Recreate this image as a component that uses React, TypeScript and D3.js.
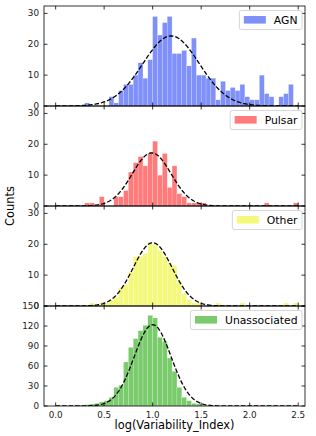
import * as d3 from 'd3';

// histogram bins: 0.05 wide, starting at 0
const binStart = 0;
const binWidth = 0.05;

const classNames = ['AGN', 'Pulsar', 'Other', 'Unassociated'];

const agnCounts = [0, 0, 0, 0, 0, 0, 1, 0, 0, 0, 0, 3, 1, 5, 7, 7, 10, 14, 9, 15, 29, 23, 27, 29, 17, 17, 18, 13, 22, 10, 10, 9, 9, 2, 8, 5, 6, 5, 7, 3, 2, 2, 10, 4, 3, 0, 3, 4, 7, 0];
const pulsarCounts = [0, 0, 0, 0, 0, 0, 1, 1, 0, 3, 0, 0, 3, 3, 5, 11, 14, 16, 13, 17, 21, 10, 17, 6, 13, 4, 3, 1, 1, 1, 1, 0, 0, 0, 0, 0, 0, 0, 0, 0, 0, 0, 0, 1, 0, 0, 0, 0, 0, 1];
const otherCounts = [0, 0, 0, 0, 0, 0, 0, 1, 0, 1, 1, 2, 3, 6, 7, 11, 16, 16, 17, 20, 20, 18, 16, 14, 13, 8, 4, 2, 1, 1, 0, 0, 0, 1, 0, 0, 0, 0, 1, 0, 0, 0, 0, 0, 0, 0, 0, 1, 0, 1];
const unassocCounts = [0, 0, 0, 0, 1, 1, 2, 3, 4, 6, 8, 13, 28, 31, 66, 88, 101, 113, 121, 136, 132, 103, 97, 72, 52, 28, 13, 8, 4, 3, 1, 1, 0, 0, 0, 0, 0, 0, 0, 0, 0, 0, 0, 0, 0, 0, 0, 0, 0, 0];

// gaussian fits (peak height, mean, sigma)
const fitPeaks = [22.7, 17.2, 20.5, 122];
const fitMeans = [1.19, 0.99, 1.0, 1.0];
const fitSigmas = [0.29, 0.2, 0.2, 0.19];

const yMaxes = [32.4, 32.4, 32.4, 150];
const yTickSets = [[0, 10, 20, 30], [0, 10, 20, 30], [0, 10, 20, 30], [0, 30, 60, 90, 120, 150]];
const xTicks = [0, 0.5, 1.0, 1.5, 2.0, 2.5];

const colors = ['#8090fa', '#ff7b7b', '#f4f97c', '#7acb6c'];
const allCounts = [agnCounts, pulsarCounts, otherCounts, unassocCounts];

const FONT = 'DejaVu Sans, sans-serif';
const W = 316;
const H = 436;
const left = 44;
const right = 305;
const top0 = 6;
const panelH = 100;
const tickLen = 3.5;
const legendFont = 10.8;

function textWidth(s: string, size: number) {
  const c = document.createElement('canvas').getContext('2d');
  if (!c) return s.length * size * 0.6;
  c.font = `${size}px DejaVu Sans`;
  return c.measureText(s).width;
}

export default function App() {
  const x = d3.scaleLinear().domain([-0.12, 2.57]).range([left, right]);
  const curveX = d3.range(0, 2.5001, 0.01);

  return (
    <svg width={W} height={H} style={{ position: 'absolute', left: 0, top: 0, background: '#fff' }}
      fontFamily={FONT}>
      {classNames.map((name, p) => {
        const top = top0 + p * panelH;
        const bottom = top + panelH;
        const y = d3.scaleLinear().domain([0, yMaxes[p]]).range([bottom, top]);
        const counts = allCounts[p];
        const line = d3.line<number>()
          .x(v => x(v))
          .y(v => y(fitPeaks[p] * Math.exp(-((v - fitMeans[p]) ** 2) / (2 * fitSigmas[p] ** 2))));
        const tw = textWidth(name, legendFont);
        const lgW = 4.5 + 22 + 8 + tw + 4.5;
        const lgR = 302;
        const lgT = top + 4.5;
        const lgH = 19;
        return (
          <g key={name}>
            <defs>
              <clipPath id={`clip${p}`}>
                <rect x={left} y={top} width={right - left} height={panelH} />
              </clipPath>
            </defs>
            <g clipPath={`url(#clip${p})`}>
              {counts.map((c, i) => c > 0 && (
                <rect key={i}
                  x={x(binStart + i * binWidth)}
                  width={x(binStart + (i + 1) * binWidth) - x(binStart + i * binWidth)}
                  y={y(c)} height={y(0) - y(c)}
                  fill={colors[p]} stroke="#fff" strokeOpacity={0.45} strokeWidth={0.4} />
              ))}
              <path d={line(curveX) || ''} fill="none" stroke="#000" strokeWidth={1.3}
                strokeDasharray="4.5,2" />
            </g>
            {/* y ticks */}
            {yTickSets[p].map(t => (
              <g key={t}>
                <line x1={left} x2={left + tickLen} y1={y(t)} y2={y(t)} stroke="#000" strokeWidth={0.8} />
                <line x1={right} x2={right - tickLen} y1={y(t)} y2={y(t)} stroke="#000" strokeWidth={0.8} />
                <text x={left - 5} y={y(t)} dy="0.35em" textAnchor="end" fontSize={8.8} fill="#222">{t}</text>
              </g>
            ))}
            {/* x ticks top and bottom */}
            {xTicks.map(t => (
              <g key={t}>
                <line x1={x(t)} x2={x(t)} y1={bottom} y2={bottom - tickLen} stroke="#000" strokeWidth={0.8} />
                <line x1={x(t)} x2={x(t)} y1={top} y2={top + tickLen} stroke="#000" strokeWidth={0.8} />
              </g>
            ))}
            <rect x={left} y={top} width={right - left} height={panelH} fill="none" stroke="#000" strokeWidth={0.8} />
            {/* legend */}
            <g>
              <rect x={lgR - lgW} y={lgT} width={lgW} height={lgH} rx={2} fill="#fff" fillOpacity={0.8}
                stroke="#ccc" strokeWidth={0.8} />
              <rect x={lgR - lgW + 4.5} y={lgT + 5.5} width={22} height={7.6} fill={colors[p]} />
              <text x={lgR - lgW + 4.5 + 22 + 8} y={lgT + lgH / 2} dy="0.36em" fontSize={legendFont} fill="#000">{name}</text>
            </g>
          </g>
        );
      })}
      {xTicks.map(t => (
        <text key={t} x={x(t)} y={top0 + 4 * panelH + 12} textAnchor="middle" fontSize={8.8} fill="#222">
          {t.toFixed(1)}
        </text>
      ))}
      <text x={(left + right) / 2} y={429} textAnchor="middle" fontSize={11.4} fill="#000">log(Variability_Index)</text>
      <text transform={`translate(14,${top0 + 2 * panelH}) rotate(-90)`} textAnchor="middle" fontSize={11.4} fill="#000">Counts</text>
    </svg>
  );
}
